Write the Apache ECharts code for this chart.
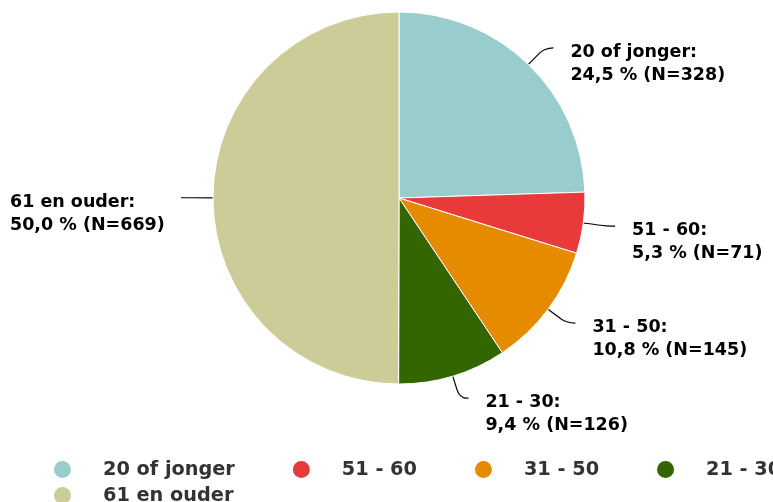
<!DOCTYPE html>
<html>
<head>
<meta charset="utf-8">
<script src="https://cdn.jsdelivr.net/npm/echarts@6/dist/echarts.min.js"></script>
<style>
  html, body { margin: 0; padding: 0; background: #fff; }
  #main { width: 773px; height: 502px; }
</style>
</head>
<body>
<div id="main"></div>
<script>
// leeftijdsgroepen, in de volgorde van de taart (met de klok mee vanaf boven)
var categories = ['20 of jonger', '51 - 60', '31 - 50', '21 - 30', '61 en ouder'];
var counts = [328, 71, 145, 126, 669];
var colors = ['#99CCCC', '#E8393B', '#E68A00', '#336600', '#CCCC99'];

var total = counts.reduce(function (a, b) { return a + b; }, 0);
var pieData = [];
for (var i = 0; i < categories.length; i++) {
  var item = { name: categories[i], value: counts[i], itemStyle: { color: colors[i] } };
  // label links staat tegen de rand
  if (i === categories.length - 1) {
    item.label = { alignTo: 'edge', edgeDistance: 10 };
  }
  pieData.push(item);
}

var myChart = echarts.init(document.getElementById('main'));
myChart.setOption({
  animation: false,
  legend: {
    data: categories,
    orient: 'horizontal',
    left: 52,
    top: 459,
    width: 800,
    padding: 0,
    icon: 'circle',
    itemWidth: 19,
    itemHeight: 19,
    itemGap: 5,
    textStyle: {
      fontFamily: 'DejaVu Sans',
      fontWeight: 'bold',
      fontSize: 19.3,
      lineHeight: 19,
      color: '#333333',
      padding: [0, 51, 0, 26]
    }
  },
  series: [{
    type: 'pie',
    center: [399, 198],
    radius: [0, 186],
    startAngle: 90,
    clockwise: true,
    avoidLabelOverlap: false,
    labelLayout: { hideOverlap: false },
    data: pieData,
    itemStyle: { borderColor: '#ffffff', borderWidth: 1 },
    label: {
      show: true,
      position: 'outside',
      color: '#000000',
      fontFamily: 'DejaVu Sans',
      fontWeight: 'bold',
      fontSize: 17.5,
      lineHeight: 23,
      overflow: 'none',
      distanceToLabelLine: 17,
      formatter: function (p) {
        var pct = (p.value / total * 100).toFixed(1).replace('.', ',');
        return '{s|}\n' + p.name + ':\n' + pct + ' % (N=' + p.value + ')';
      },
      rich: {
        s: { height: 32, lineHeight: 32 }
      }
    },
    labelLine: {
      show: true,
      length: 23,
      length2: 9,
      smooth: 0.5,
      lineStyle: { color: '#000000', width: 1.2 }
    },
    emphasis: { disabled: true }
  }]
});
</script>
</body>
</html>
